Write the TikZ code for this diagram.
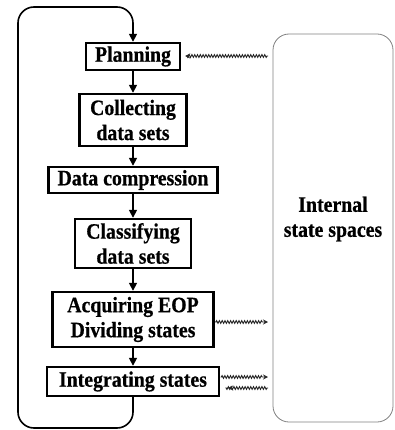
\documentclass[tikz,border=0pt]{standalone}
\usepackage{fontspec}
\setmainfont[FakeStretch=0.9,BoldFeatures={FakeBold=0.6}]{Liberation Serif}
\usetikzlibrary{arrows.meta,decorations.pathmorphing}

\tikzset{
  stepbox/.style={draw,line width=2.4pt,align=center,inner sep=0pt,
    font=\fontsize{22}{25}\selectfont\bfseries},
  flow/.style={line width=1.6pt,-{Triangle[length=8pt,width=8pt]}},
  loopline/.style={line width=1.6pt,rounded corners=16pt},
  wave/.style={line width=0.9pt,black!85,-{Stealth[open,length=5pt,width=5pt]},
    decorate,decoration={snake,amplitude=1.4pt,segment length=2.8pt,pre length=1pt,post length=5pt}}
}

\begin{document}
\begin{tikzpicture}[x=1pt,y=-1pt]
  \useasboundingbox (0,0) rectangle (395,430);
  % processing steps
  \node[stepbox,minimum width=94pt,minimum height=27pt] (plan) at (133,56.5) {Planning};
  \node[stepbox,minimum width=107pt,minimum height=52pt] (coll) at (133,120) {Collecting\\data sets};
  \node[stepbox,minimum width=169pt,minimum height=26pt] (comp) at (133,180) {Data compression};
  \node[stepbox,minimum width=116pt,minimum height=49pt] (class) at (133,243.5) {Classifying\\data sets};
  \node[stepbox,minimum width=161pt,minimum height=55pt] (acq) at (133,319.5) {Acquiring EOP\\Dividing states};
  \node[stepbox,minimum width=172pt,minimum height=29pt] (integ) at (133,381.5) {Integrating states};
  \draw[flow] (plan) -- (coll);
  \draw[flow] (coll) -- (comp);
  \draw[flow] (comp) -- (class);
  \draw[flow] (class) -- (acq);
  \draw[flow] (acq) -- (integ);
  % feedback loop
  \coordinate (lb) at (18,428);
  \coordinate (lt) at (18,7);
  \draw[loopline,-{Triangle[length=8pt,width=8pt]}] (integ.south) |- (lb) -- (lt) -| (plan.north);
  % state space box
  \draw[black!50,line width=0.8pt,rounded corners=16pt] (273,34) rectangle (393,422);
  \node[font=\fontsize{22}{25}\selectfont\bfseries,align=center] (space) at (333,219) {Internal\\state spaces};
  \coordinate (sp1) at (268,56);
  \coordinate (sp2) at (268,322);
  \coordinate (sp3) at (268,377);
  \coordinate (sp4) at (268,388);
  % links to the state spaces
  \draw[wave,shorten >=4pt] (sp1) -- (plan.east |- sp1);
  \draw[wave,shorten <=4pt] (acq.east |- sp2) -- (sp2);
  \draw[wave,shorten <=4pt] (integ.east |- sp3) -- (sp3);
  \draw[wave,shorten >=8pt] (sp4) -- (integ.east |- sp4);
\end{tikzpicture}
\end{document}
